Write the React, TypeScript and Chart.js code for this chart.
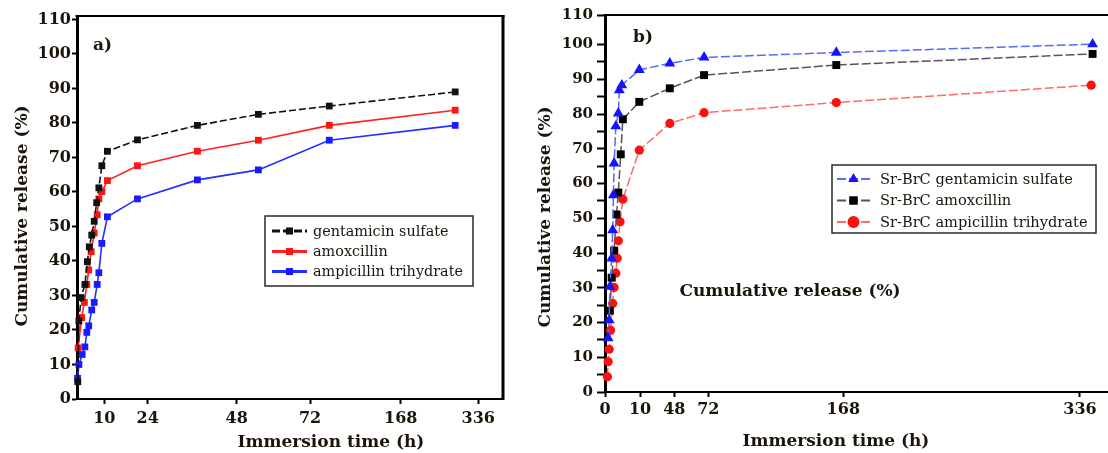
import React, { useEffect, useRef } from 'react';
import { Chart, registerables, LinearScale } from 'chart.js';

Chart.register(...registerables);

// ---------- data ----------
const hourTicksA = [10, 24, 48, 72, 168, 336];
const hourTicksB = [0, 10, 48, 72, 168, 336];
const pctTicksA = [0, 10, 20, 30, 40, 50, 60, 70, 80, 90, 100, 110];
const pctTicksB = [0, 5, 10, 15, 20, 25, 30, 35, 40, 45, 50, 55, 60, 65, 70, 75, 80, 85, 90, 95, 100];
const pctTopLabelB = '110';

const gentaTimeA = [0.3, 0.7, 1.5, 2.9, 3.8, 4.5, 5.4, 6.3, 7.2, 8.0, 9.1, 11, 20.7, 37.4, 55.1, 92.4, 286];
const gentaRelA = [5, 22.6, 29.4, 33.2, 39.8, 44.1, 47.5, 51.5, 56.9, 61.2, 67.6, 71.8, 75.1, 79.3, 82.5, 84.9, 89.0];
const amoxTimeA = [0.4, 1.7, 2.7, 3.6, 4.3, 5.2, 6.3, 7.4, 8.0, 9.1, 11, 20.7, 37.4, 55.1, 92.4, 286];
const amoxRelA = [14.8, 23.6, 28, 33.2, 37.4, 42.7, 48.1, 53.4, 58, 60.1, 63.3, 67.6, 71.8, 75.0, 79.3, 83.7];
const ampiTimeA = [0.2, 0.7, 1.9, 2.9, 3.6, 4.3, 5.4, 6.3, 7.4, 8.0, 9.1, 11, 20.7, 37.4, 55.1, 92.4, 286];
const ampiRelA = [6, 10, 12.9, 15.1, 19.3, 21.2, 25.8, 28, 33.2, 36.6, 45.1, 52.8, 58, 63.5, 66.4, 75, 79.3];

const gentaTimeB = [0.9, 1.2, 1.4, 1.9, 2.2, 2.4, 2.6, 3.1, 3.8, 4.1, 4.8, 9.8, 43, 69, 163, 345];
const gentaRelB = [15.5, 20.7, 30.3, 38.5, 46.6, 56.7, 65.8, 76.5, 80.2, 86.9, 88.3, 92.7, 94.6, 96.3, 97.7, 100.1];
const amoxTimeB = [1.4, 1.9, 2.6, 3.3, 3.8, 4.5, 5.1, 9.8, 43, 69, 163, 345];
const amoxRelB = [23.4, 32.9, 40.7, 51.1, 57.4, 68.4, 78.5, 83.5, 87.4, 91.2, 94.1, 97.3];
const ampiTimeB = [0.7, 0.9, 1.2, 1.6, 2.2, 2.6, 3.1, 3.5, 3.8, 4.3, 5.1, 9.8, 43, 69, 163, 344];
const ampiRelB = [4.4, 8.7, 12.3, 17.8, 25.5, 30.1, 34.2, 38.5, 43.5, 49, 55.5, 69.6, 77.3, 80.4, 83.3, 88.3];

const labelsA = ['gentamicin sulfate', 'amoxcillin', 'ampicillin trihydrate'];
const labelsB = ['Sr-BrC gentamicin sulfate', 'Sr-BrC amoxcillin', 'Sr-BrC ampicillin trihydrate'];

// ---------- piecewise (broken) time axis ----------
class PiecewiseScale extends LinearScale {
  static id = 'piecewise';
  static defaults = {};
  _frac(value: number) {
    const hv: number[] = (this.options as any).anchorValues;
    const fr: number[] = (this.options as any).anchorFractions;
    const n = hv.length;
    let i = 0;
    if (value <= hv[0]) i = 0;
    else if (value >= hv[n - 1]) i = n - 2;
    else {
      while (i < n - 2 && value > hv[i + 1]) i++;
    }
    return fr[i] + ((value - hv[i]) * (fr[i + 1] - fr[i])) / (hv[i + 1] - hv[i]);
  }
  getPixelForValue(value: any) {
    if (value === null || value === undefined || isNaN(value)) return NaN;
    return this.getPixelForDecimal(this._frac(+value));
  }
  getValueForPixel(pixel: number) {
    const hv: number[] = (this.options as any).anchorValues;
    const fr: number[] = (this.options as any).anchorFractions;
    const d = this.getDecimalForPixel(pixel);
    const n = hv.length;
    let i = 0;
    while (i < n - 2 && d > fr[i + 1]) i++;
    return hv[i] + ((d - fr[i]) * (hv[i + 1] - hv[i])) / (fr[i + 1] - fr[i]);
  }
}
Chart.register(PiecewiseScale as any);

const TEXT = '#1b1409';
const SERIF = '"DejaVu Serif", "Liberation Serif", serif';

const zip = (xs: number[], ys: number[]) => xs.map((x, i) => ({ x, y: ys[i] }));

function drawMarker(ctx: CanvasRenderingContext2D, style: string, x: number, y: number, r: number, color: string) {
  ctx.fillStyle = color;
  ctx.beginPath();
  if (style === 'rect') {
    const s = Math.SQRT1_2 * r;
    ctx.rect(x - s, y - s, 2 * s, 2 * s);
  } else if (style === 'triangle') {
    const a = (2 * Math.PI) / 3;
    for (let k = 0; k < 3; k++) {
      const ang = k * a;
      const px = x + Math.sin(ang) * r;
      const py = y - Math.cos(ang) * r;
      if (k === 0) ctx.moveTo(px, py);
      else ctx.lineTo(px, py);
    }
    ctx.closePath();
  } else {
    ctx.arc(x, y, r, 0, Math.PI * 2);
  }
  ctx.fill();
}

function makeFramePlugin(top: number, right: number) {
  return {
    id: 'frame',
    afterDraw(chart: any) {
      const { ctx, chartArea } = chart;
      const { left, top: t, right: r, bottom } = chartArea;
      ctx.save();
      ctx.strokeStyle = '#000';
      if (top) {
        ctx.lineWidth = top;
        ctx.beginPath();
        ctx.moveTo(left - 1.5, t);
        ctx.lineTo(right ? r + right / 2 : chart.width, t);
        ctx.stroke();
      }
      if (right) {
        ctx.lineWidth = right;
        ctx.beginPath();
        ctx.moveTo(r, t - top / 2);
        ctx.lineTo(r, bottom + 1);
        ctx.stroke();
      }
      ctx.restore();
    },
  };
}

function makeTextPlugin(items: any[]) {
  return {
    id: 'texts',
    afterDraw(chart: any) {
      const ctx = chart.ctx;
      for (const t of items) {
        ctx.save();
        ctx.translate(t.x, t.y);
        if (t.rotate) ctx.rotate(t.rotate);
        ctx.font = t.font;
        ctx.fillStyle = TEXT;
        ctx.textAlign = t.align || 'center';
        ctx.textBaseline = 'middle';
        ctx.fillText(t.text, 0, 0);
        ctx.restore();
      }
    },
  };
}

function makeLegendPlugin(cfg: any) {
  return {
    id: 'boxLegend',
    afterDraw(chart: any) {
      const ctx = chart.ctx;
      ctx.save();
      ctx.fillStyle = '#fff';
      ctx.fillRect(cfg.x, cfg.y, cfg.w, cfg.h);
      ctx.lineWidth = 1.5;
      ctx.strokeStyle = '#2a2a2a';
      ctx.strokeRect(cfg.x, cfg.y, cfg.w, cfg.h);
      chart.data.datasets.forEach((ds: any, i: number) => {
        const y = cfg.rows[i];
        ctx.strokeStyle = ds.borderColor;
        ctx.lineWidth = cfg.lineWidth;
        ctx.setLineDash(cfg.dashes[i]);
        ctx.beginPath();
        ctx.moveTo(cfg.lineX0, y);
        ctx.lineTo(cfg.lineX1, y);
        ctx.stroke();
        ctx.setLineDash([]);
        drawMarker(ctx, ds.pointStyle, (cfg.lineX0 + cfg.lineX1) / 2, y, cfg.markerR, ds.pointBackgroundColor);
        ctx.fillStyle = TEXT;
        ctx.font = cfg.font;
        ctx.textAlign = 'left';
        ctx.textBaseline = 'middle';
        ctx.fillText(ds.label, cfg.textX, y + 1);
      });
      ctx.restore();
    },
  };
}

const tickFont = { family: SERIF, size: 16, weight: 'bold' as const };

function buildA(canvas: HTMLCanvasElement) {
  const W = 510, H = 453;
  const chartLeft = 77, chartRight = 503, chartTop = 16, chartBottom = 399;
  return new Chart(canvas, {
    type: 'line',
    data: {
      datasets: [
        {
          label: labelsA[0], data: zip(gentaTimeA, gentaRelA),
          borderColor: '#111', backgroundColor: '#111', pointBackgroundColor: '#111',
          borderWidth: 1.6, borderDash: [7, 3], pointStyle: 'rect', pointRadius: 4.8, pointBorderWidth: 0,
          clip: false as any,
        },
        {
          label: labelsA[1], data: zip(amoxTimeA, amoxRelA),
          borderColor: '#ff2020', backgroundColor: '#ff2020', pointBackgroundColor: '#ff1414',
          borderWidth: 1.6, pointStyle: 'rect', pointRadius: 4.8, pointBorderWidth: 0, clip: false as any,
        },
        {
          label: labelsA[2], data: zip(ampiTimeA, ampiRelA),
          borderColor: '#2030ff', backgroundColor: '#2030ff', pointBackgroundColor: '#1a1aff',
          borderWidth: 1.6, pointStyle: 'rect', pointRadius: 4.8, pointBorderWidth: 0, clip: false as any,
        },
      ],
    },
    options: {
      animation: false,
      responsive: false,
      events: [],
      layout: { autoPadding: false, padding: { left: 0, right: W - chartRight, top: chartTop, bottom: 0 } },
      elements: { line: { tension: 0 } },
      scales: {
        x: {
          type: 'piecewise' as any,
          min: 0,
          max: 389.5,
          anchorValues: [0, 10, 24, 48, 72, 168, 336, 389.5],
          anchorFractions: [0, 0.0641, 0.166, 0.3749, 0.547, 0.7599, 0.942, 1],
          afterBuildTicks: (s: any) => { s.ticks = hourTicksA.map((v) => ({ value: v })); },
          afterFit: (s: any) => { s.height = H - chartBottom; s.paddingLeft = 0; s.paddingRight = 0; },
          ticks: { font: tickFont, color: TEXT, padding: 5, maxRotation: 0, autoSkip: false, callback: (v: any) => String(v) },
          grid: { drawOnChartArea: false, drawTicks: true, tickLength: 5, tickWidth: 2, tickColor: '#000' },
          border: { width: 2, color: '#000' },
        } as any,
        y: {
          min: 0,
          max: 111,
          afterBuildTicks: (s: any) => { s.ticks = pctTicksA.map((v) => ({ value: v })); },
          afterFit: (s: any) => { s.width = chartLeft; },
          ticks: { font: tickFont, color: TEXT, padding: 1, autoSkip: false, callback: (v: any) => String(v) },
          grid: { drawOnChartArea: false, drawTicks: true, tickLength: 5, tickWidth: 2, tickColor: '#000' },
          border: { width: 3, color: '#000' },
        },
      },
      plugins: { legend: { display: false }, tooltip: { enabled: false } },
    },
    plugins: [
      makeFramePlugin(2, 3),
      makeTextPlugin([
        { text: 'Cumulative release (%)', x: 22.5, y: 216, rotate: -Math.PI / 2, font: `bold 17px ${SERIF}` },
        { text: 'Immersion time (h)', x: 331, y: 443, font: `bold 17px ${SERIF}` },
        { text: 'a)', x: 93, y: 46, align: 'left', font: `bold 17px ${SERIF}` },
      ]),
      makeLegendPlugin({
        x: 265, y: 216, w: 208, h: 70,
        rows: [231, 251.5, 271.5],
        lineX0: 272, lineX1: 307, lineWidth: 3,
        dashes: [[8, 3], [], []],
        markerR: 5, textX: 313,
        font: `14.4px ${SERIF}`,
      }),
    ] as any,
  });
}

function buildB(canvas: HTMLCanvasElement) {
  const H = 453;
  const chartLeft = 75, chartTop = 15, chartBottom = 392;
  const yTop = 108.5;
  return new Chart(canvas, {
    type: 'line',
    data: {
      datasets: [
        {
          label: labelsB[0], data: zip(gentaTimeB, gentaRelB),
          borderColor: '#5868ff', backgroundColor: '#1414ff', pointBackgroundColor: '#1414ff',
          borderWidth: 1.5, borderDash: [9, 3], pointStyle: 'triangle', pointRadius: 6.3, pointBorderWidth: 0,
          clip: false as any,
        },
        {
          label: labelsB[1], data: zip(amoxTimeB, amoxRelB),
          borderColor: '#555', backgroundColor: '#000', pointBackgroundColor: '#000',
          borderWidth: 1.5, borderDash: [9, 3], pointStyle: 'rect', pointRadius: 5.6, pointBorderWidth: 0,
          clip: false as any,
        },
        {
          label: labelsB[2], data: zip(ampiTimeB, ampiRelB),
          borderColor: '#ff6a6a', backgroundColor: '#ff1010', pointBackgroundColor: '#ff1010',
          borderWidth: 1.5, borderDash: [9, 3], pointStyle: 'circle', pointRadius: 4.6, pointBorderWidth: 0,
          clip: false as any,
        },
      ],
    },
    options: {
      animation: false,
      responsive: false,
      events: [],
      layout: { autoPadding: false, padding: { left: 0, right: 0, top: chartTop, bottom: 0 } },
      elements: { line: { tension: 0 } },
      scales: {
        x: {
          type: 'piecewise' as any,
          min: 0,
          max: 356,
          anchorValues: [0, 10, 48, 72, 168, 336, 356],
          anchorFractions: [0, 0.0696, 0.1378, 0.2054, 0.4738, 0.9443, 1],
          afterBuildTicks: (s: any) => { s.ticks = hourTicksB.map((v) => ({ value: v })); },
          afterFit: (s: any) => { s.height = H - chartBottom; s.paddingLeft = 0; s.paddingRight = 0; },
          ticks: { font: tickFont, color: TEXT, padding: 3, maxRotation: 0, autoSkip: false, callback: (v: any) => String(v) },
          grid: { drawOnChartArea: false, drawTicks: true, tickLength: 5, tickWidth: 2, tickColor: '#000' },
          border: { width: 2, color: '#000' },
        } as any,
        y: {
          min: 0,
          max: yTop,
          afterBuildTicks: (s: any) => { s.ticks = [...pctTicksB, yTop].map((v) => ({ value: v })); },
          afterFit: (s: any) => { s.width = chartLeft; },
          ticks: {
            font: { family: SERIF, size: 15, weight: 'bold' as const }, color: TEXT, padding: 4, autoSkip: false,
            callback: (v: any) => (v === yTop ? pctTopLabelB : v % 10 === 0 ? String(v) : ''),
          },
          grid: { drawOnChartArea: false, drawTicks: true, tickLength: 8, tickWidth: 2, tickColor: '#000' },
          border: { width: 3, color: '#000' },
        },
      },
      plugins: { legend: { display: false }, tooltip: { enabled: false } },
    },
    plugins: [
      makeFramePlugin(2, 0),
      makeTextPlugin([
        { text: 'Cumulative release (%)', x: 16, y: 217, rotate: -Math.PI / 2, font: `bold 17px ${SERIF}` },
        { text: 'Immersion time (h)', x: 306, y: 442, font: `bold 17px ${SERIF}` },
        { text: 'Cumulative release (%)', x: 260, y: 292, font: `bold 17px ${SERIF}` },
        { text: 'b)', x: 103, y: 38, align: 'left', font: `bold 17px ${SERIF}` },
      ]),
      makeLegendPlugin({
        x: 302, y: 165, w: 264, h: 68,
        rows: [179, 200.5, 222],
        lineX0: 307, lineX1: 340, lineWidth: 1.8,
        dashes: [[9, 3], [9, 3], [9, 3]],
        markerR: 6, textX: 350,
        font: `14.6px ${SERIF}`,
      }),
    ] as any,
  });
}

export default function App() {
  const refA = useRef<HTMLCanvasElement | null>(null);
  const refB = useRef<HTMLCanvasElement | null>(null);
  useEffect(() => {
    const a = buildA(refA.current!);
    const b = buildB(refB.current!);
    return () => { a.destroy(); b.destroy(); };
  }, []);
  return (
    <div style={{ position: 'fixed', left: 0, top: 0, width: 1108, height: 453, background: '#fff', overflow: 'hidden' }}>
      <canvas ref={refA} width={510} height={453} style={{ position: 'absolute', left: 0, top: 0, width: 510, height: 453 }} />
      <canvas ref={refB} width={578} height={453} style={{ position: 'absolute', left: 530, top: 0, width: 578, height: 453 }} />
    </div>
  );
}
